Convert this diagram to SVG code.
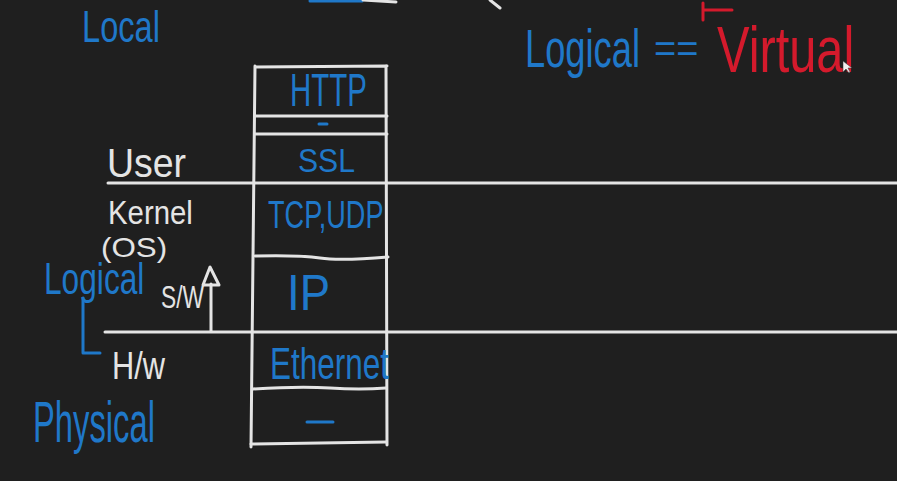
<svg xmlns="http://www.w3.org/2000/svg" width="897" height="481" viewBox="0 0 897 481">
  <style>
    .bg { fill: #1f1f1f; }
    .wl { stroke: #e4e4e4; stroke-width: 3; fill: none; stroke-linecap: round; stroke-linejoin: round; }
    .bl { stroke: #1f78c9; stroke-width: 3; fill: none; stroke-linecap: round; stroke-linejoin: round; }
    .rl { stroke: #d41a2c; stroke-width: 3; fill: none; stroke-linecap: round; }
    .tb { fill: #1f78c9; font-family: "Liberation Sans", Arial, sans-serif; }
    .tw { fill: #e4e4e4; font-family: "Liberation Sans", Arial, sans-serif; }
    .tr { fill: #d41a2c; font-family: "Liberation Sans", Arial, sans-serif; }
  </style>
  <rect class="bg" x="0" y="0" width="897" height="481"/>

  <!-- partial strokes at the top edge -->
  <g id="top-fragments">
    <line class="bl" x1="310" y1="1" x2="362" y2="1"/>
    <line class="wl" x1="363" y1="0" x2="396" y2="2"/>
    <line class="wl" x1="490" y1="0" x2="500" y2="8"/>
    <path class="rl" d="M703,3 L703,20 M703,10 L732,10"/>
  </g>

  <!-- protocol stack -->
  <g id="stack">
    <path class="wl" d="M255,67 L387,66 M255,66 L251,447 M386,66 L387,445"/>
    <path class="wl" d="M251,444 L386,442"/>
  </g>
  <g id="layer-http">
    <line class="wl" x1="255" y1="116" x2="387" y2="116"/>
    <text class="tb" transform="translate(290,106) scale(0.627,1)" font-size="47">HTTP</text>
  </g>
  <g id="layer-gap">
    <line class="wl" x1="255" y1="134" x2="387" y2="134"/>
    <line class="bl" x1="319" y1="124" x2="327" y2="124"/>
  </g>
  <g id="layer-ssl">
    <text class="tb" transform="translate(298,172) scale(0.887,1)" font-size="34">SSL</text>
  </g>
  <g id="layer-tcpudp">
    <text class="tb" transform="translate(268,228) scale(0.695,1)" font-size="39">TCP,UDP</text>
    <path class="wl" d="M255,256 Q300,255 320,258 T388,257"/>
  </g>
  <g id="layer-ip">
    <text class="tb" transform="translate(287,310) scale(0.91,1)" font-size="50">IP</text>
  </g>
  <g id="layer-ethernet">
    <text class="tb" transform="translate(270,379) scale(0.716,1)" font-size="44">Ethernet</text>
    <path class="wl" d="M253,389 Q300,386 330,388 T386,388"/>
  </g>
  <g id="layer-physical">
    <line class="bl" x1="307" y1="422" x2="333" y2="422"/>
  </g>

  <!-- boundaries -->
  <g id="boundary-user-kernel">
    <line class="wl" x1="108" y1="183" x2="897" y2="183"/>
    <text class="tw" transform="translate(107,177) scale(0.936,1)" font-size="40">User</text>
    <text class="tw" transform="translate(108,224) scale(0.89,1)" font-size="33">Kernel</text>
    <text class="tw" transform="translate(101,257) scale(1.12,1)" font-size="28">(OS)</text>
  </g>
  <g id="boundary-sw-hw">
    <line class="wl" x1="105" y1="332" x2="897" y2="332"/>
    <text class="tw" transform="translate(161,308) scale(0.71,1)" font-size="32">S/W</text>
    <text class="tw" transform="translate(112,379) scale(0.81,1)" font-size="38">H/w</text>
  </g>

  <!-- side labels -->
  <g id="label-local">
    <text class="tb" transform="translate(82,42) scale(0.741,1)" font-size="44">Local</text>
  </g>
  <g id="label-logical">
    <text class="tb" transform="translate(44,294) scale(0.72,1)" font-size="44">Logical</text>
  </g>
  <g id="label-physical">
    <text class="tb" transform="translate(33,442) scale(0.565,1)" font-size="58">Physical</text>
  </g>
  <g id="label-equation">
    <text class="tb" transform="translate(525,67) scale(0.672,1)" font-size="54">Logical</text>
    <text class="tb" x="654" y="62" font-size="38">==</text>
    <text class="tr" transform="translate(717,72) scale(0.762,1)" font-size="64">Virtual</text>
  </g>

  <!-- connectors -->
  <g id="connectors">
    <path class="wl" d="M211,331 L211,284"/>
    <path class="wl" d="M210,267 L203,285 L219,285 Z"/>
    <path class="bl" d="M83,298 L83,353 L100,353"/>
  </g>

  <!-- mouse cursor -->
  <path d="M843,61 L843,72 L846,69 L849,73 L850,72 L848,68 L852,68 Z" fill="#f0f0f0" stroke="#333" stroke-width="0.5"/>
</svg>
